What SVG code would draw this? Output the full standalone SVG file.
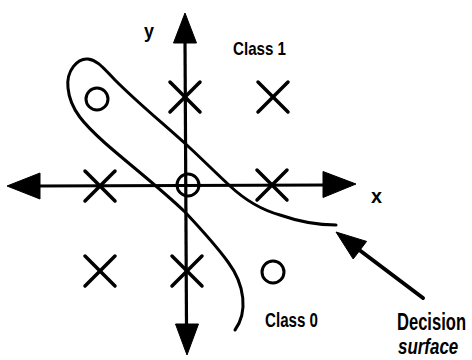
<svg xmlns="http://www.w3.org/2000/svg" width="472" height="360" viewBox="0 0 472 360">
<style>
.ax{stroke:#000;stroke-width:3.2;fill:none}
.head{fill:#000;stroke:#000;stroke-width:1;stroke-linejoin:round}
.mk{stroke:#000;stroke-width:3.5;stroke-linecap:round;fill:none}
.o{stroke:#000;stroke-width:3;fill:none}
.curve{stroke:#000;stroke-width:3;fill:none;stroke-linecap:round;stroke-linejoin:round}
.t{font-family:"Liberation Sans",Arial,sans-serif;font-weight:bold;fill:#000}
</style>
<defs>
<g id="cross"><line x1="-15" y1="-15" x2="15" y2="15" class="mk"/><line x1="-15" y1="15" x2="15" y2="-15" class="mk"/></g>
</defs>
<rect width="472" height="360" fill="#fff"/>
<g id="connectors">
<g id="y-axis">
<line x1="185" y1="40" x2="186.5" y2="326" class="ax"/>
<polygon points="185,13 173.5,43 196.5,43" class="head"/>
<polygon points="187,355 175.5,324 198.5,324" class="head"/>
</g>
<g id="x-axis">
<line x1="38" y1="186" x2="326" y2="185" class="ax"/>
<polygon points="7,186 40,173 40,199" class="head"/>
<polygon points="356,184 323,171.5 323,197.5" class="head"/>
</g>
<g id="surface-pointer">
<line x1="423" y1="298" x2="358" y2="249" stroke="#000" stroke-width="4" stroke-linecap="round"/>
<polygon points="336,232 366.6,241.4 353.2,259" class="head"/>
</g>
</g>
<g id="decision-surface">
<path class="curve" d="M235,330 C248,312 245,285 228,262 C215,244 200,228 185,212 C160,188 130,165 105,143 C85,125 70,110 68,88 C66,70 78,58 88,59 C98,60 105,70 115,80 C140,105 165,125 190,148 C205,162 218,175 230,186 C245,200 262,210 280,215 C300,222 318,225 336,225"/>
</g>
<g id="class1-points">
<use href="#cross" x="185" y="97"/>
<use href="#cross" x="273" y="97"/>
<use href="#cross" x="100" y="186"/>
<use href="#cross" x="272" y="185"/>
<use href="#cross" x="100" y="271"/>
<use href="#cross" x="187" y="271"/>
</g>
<g id="class0-points">
<circle cx="97" cy="99" r="11" class="o"/>
<circle cx="188" cy="185" r="11" class="o"/>
<circle cx="273" cy="272" r="11" class="o"/>
</g>
<g id="labels">
<text class="t" x="144" y="38" font-size="20" textLength="10" lengthAdjust="spacingAndGlyphs">y</text>
<text class="t" x="371" y="203" font-size="20" textLength="11" lengthAdjust="spacingAndGlyphs">x</text>
<text class="t" x="233" y="55" font-size="19" textLength="53" lengthAdjust="spacingAndGlyphs">Class 1</text>
<text class="t" x="265" y="327" font-size="20" textLength="53" lengthAdjust="spacingAndGlyphs">Class 0</text>
<text class="t" transform="translate(397,330) scale(0.69,1)" x="0" y="0" font-size="24">Decision</text>
<text class="t" transform="translate(398,354) scale(0.77,1)" x="0" y="0" font-size="22" font-style="italic">surface</text>
</g>
</svg>
